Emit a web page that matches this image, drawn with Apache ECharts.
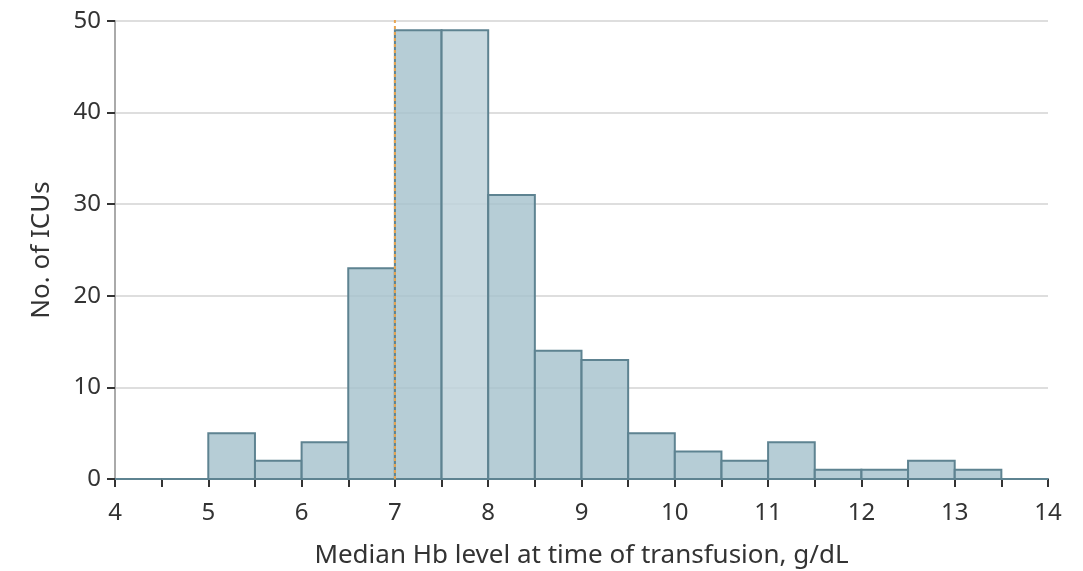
<!DOCTYPE html>
<html>
<head>
<meta charset="utf-8">
<script src="https://cdn.jsdelivr.net/npm/echarts@6/dist/echarts.min.js"></script>
<style>
  html, body { margin: 0; padding: 0; background: #fff; }
  #chart { width: 1083px; height: 571px; }
</style>
</head>
<body>
<div id="chart"></div>
<script>
// histogram bins (g/dL), width 0.5
var binStarts = [4, 4.5, 5, 5.5, 6, 6.5, 7, 7.5, 8, 8.5, 9, 9.5, 10, 10.5, 11, 11.5, 12, 12.5, 13, 13.5];
var counts    = [0, 0, 5, 2, 4, 23, 49, 49, 31, 14, 13, 5, 3, 2, 4, 1, 1, 2, 1, 0];
var binWidth = 0.5;
var highlightBin = 7.5;   // lighter bar
var thresholdLine = 7;

var fontFam = '"Noto Sans", "Open Sans", sans-serif';

var myChart = echarts.init(document.getElementById('chart'));

var option = {
    animation: false,
    grid: { left: 115, right: 35, top: 21, bottom: 92, outerBoundsMode: 'none' },
    xAxis: {
        type: 'value',
        min: 4,
        max: 14,
        interval: 1,
        name: 'Median Hb level at time of transfusion, g/dL',
        nameLocation: 'middle',
        nameGap: 64,
        nameTextStyle: { fontFamily: fontFam, fontSize: 26, color: '#333' },
        axisLine: { show: true, onZero: false, lineStyle: { color: '#4f6f7a', width: 2 } },
        axisTick: { show: true, length: 8, lineStyle: { color: '#333', width: 2 } },
        minorTick: { show: true, splitNumber: 2, length: 8, lineStyle: { color: '#333', width: 2 } },
        axisLabel: { fontFamily: fontFam, fontSize: 24, color: '#333', margin: 22 },
        splitLine: { show: false }
    },
    yAxis: {
        type: 'value',
        min: 0,
        max: 50,
        interval: 10,
        name: 'No. of ICUs',
        nameLocation: 'middle',
        nameGap: 60,
        nameTextStyle: { fontFamily: fontFam, fontSize: 26, color: '#333' },
        axisLine: { show: true, lineStyle: { color: '#aaa', width: 2 } },
        axisTick: { show: true, length: 8, lineStyle: { color: '#333', width: 2 } },
        axisLabel: { fontFamily: fontFam, fontSize: 24, color: '#333', margin: 14 },
        splitLine: { show: true, lineStyle: { color: '#dedede', width: 2 } }
    },
    series: [
        {
            type: 'custom',
            data: binStarts.map(function (s, i) { return [s, s + binWidth, counts[i]]; }),
            encode: { x: [0, 1], y: 2 },
            renderItem: function (params, api) {
                var p0 = api.coord([api.value(0), api.value(2)]);
                var p1 = api.coord([api.value(1), 0]);
                var light = api.value(0) === highlightBin;
                return {
                    type: 'rect',
                    shape: { x: p0[0], y: p0[1], width: p1[0] - p0[0], height: p1[1] - p0[1] },
                    style: {
                        fill: light ? 'rgba(190,210,219,0.85)' : 'rgba(164,192,204,0.8)',
                        stroke: '#5e8391',
                        lineWidth: 2
                    }
                };
            },
            z: 3
        },
        {
            type: 'line',
            data: [[thresholdLine, 0], [thresholdLine, 50.3]],
            symbol: 'none',
            silent: true,
            lineStyle: { color: '#e8a550', type: [3, 3], width: 2 },
            z: 4
        }
    ]
};
myChart.setOption(option);
window.addEventListener('resize', function () {
    myChart.resize();
});
</script>
</body>
</html>
